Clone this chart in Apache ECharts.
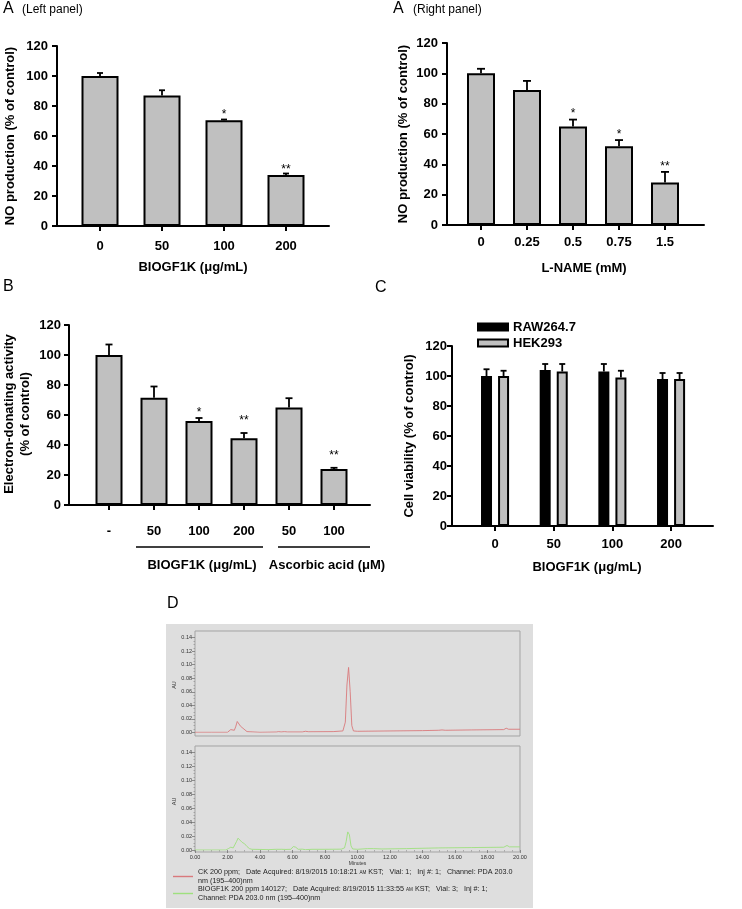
<!DOCTYPE html>
<html><head><meta charset="utf-8">
<script src="https://cdn.jsdelivr.net/npm/echarts@6/dist/echarts.min.js"></script>
<style>html,body{margin:0;padding:0;background:#fff}#c{width:742px;height:909px}</style>
</head><body><div id="c"></div><script>
// ---------- DATA ----------
const aLeftCats = ['0', '50', '100', '200'];
const aLeftVals = [100, 87, 70.5, 34];
const aLeftErr  = [2, 3.5, 0.5, 1];
const aLeftSig  = ['', '', '*', '**'];

const aRightCats = ['0', '0.25', '0.5', '0.75', '1.5'];
const aRightVals = [100, 89, 65, 52, 28];
const aRightErr  = [3, 6, 4.5, 4, 7];
const aRightSig  = ['', '', '*', '*', '**'];

const bCats = ['-', '50', '100', '200', '50', '100'];
const bVals = [100, 71.5, 56, 44.5, 65, 24];
const bErr  = [7, 7.5, 2, 3.5, 6.2, 0.8];
const bSig  = ['', '', '*', '**', '', '**'];

const cCats = ['0', '50', '100', '200'];
const cRaw    = [100, 104, 103, 98];
const cRawErr = [4.5, 4, 5, 4];
const cHek    = [100, 103, 99, 98];
const cHekErr = [3.5, 5, 4.5, 4];

const yTicksBar = [0, 120, 20]; // min, max, interval

// chromatogram (time in min, AU)
const ckTrace = [[0,0],[1,0],[2.0,0],[2.1,0.001],[2.2,0.004],[2.3,0.003],[2.42,0.003],[2.5,0.008],[2.6,0.016],[2.7,0.014],[2.8,0.009],[2.95,0.006],[3.05,0.004],[3.2,0.001],[3.3,0],[4,0],[5.0,0.0004],[5.15,0.001],[5.3,0.0005],[5.5,0.001],[5.7,0.0005],[6.6,0.0005],[6.8,0.0015],[7.0,0.0008],[8.5,0.001],[9.1,0.002],[9.25,0.015],[9.35,0.07],[9.45,0.096],[9.55,0.06],[9.65,0.01],[9.75,0.002],[10,0.0015],[12,0.002],[14,0.0025],[15,0.003],[15.2,0.0035],[15.4,0.003],[17,0.0035],[19,0.004],[19.15,0.006],[19.3,0.0045],[20,0.0045]];
const bioTrace = [[0,0],[1,0],[1.9,0],[2.05,0.002],[2.2,0.004],[2.35,0.003],[2.45,0.003],[2.55,0.012],[2.65,0.017],[2.75,0.015],[2.9,0.011],[3.05,0.009],[3.2,0.005],[3.35,0.002],[3.5,0.001],[4.0,0.0008],[4.5,0.0005],[5.0,0.001],[5.3,0.001],[5.6,0.0008],[5.9,0.001],[6.05,0.005],[6.12,0.007],[6.2,0.004],[6.35,0.001],[6.6,0.0012],[6.8,0.0005],[7.2,0.001],[8,0.001],[9.0,0.0012],[9.2,0.003],[9.3,0.012],[9.4,0.026],[9.5,0.022],[9.6,0.006],[9.7,0.0015],[10,0.001],[10.6,0.002],[11,0.002],[11.5,0.0015],[13,0.002],[15,0.003],[17,0.0035],[19,0.004],[19.2,0.0065],[19.35,0.0045],[20,0.0045]];
const chromY = [0, 0.14, 0.02];
const chromX = [0, 20, 2];
const legendTexts = {
  'CK': 'CK 200 ppm;   Date Acquired: 8/19/2015 10:18:21 {s|AM} KST;   Vial: 1;   Inj #: 1;   Channel: PDA 203.0\nnm (195\u2013400)nm',
  'BIOGF1K': 'BIOGF1K 200 ppm 140127;   Date Acquired: 8/19/2015 11:33:55 {s|AM} KST;   Vial: 3;   Inj #: 1;\nChannel: PDA 203.0 nm (195\u2013400)nm'
};

// ---------- STYLE HELPERS ----------
const FF = '"Liberation Sans", Arial, sans-serif';
const BLACK = '#000';
const labelBold = { fontFamily: FF, fontWeight: 'bold', fontSize: 13, color: BLACK };

function outerAxes(gi, yMargin) {
  return {
    x: { gridIndex: gi, type: 'value', min: 0, max: 1, axisLine: { show: true, lineStyle: { color: BLACK, width: 2 } },
         axisTick: { show: false }, axisLabel: { show: false }, splitLine: { show: false } },
    y: { gridIndex: gi, type: 'value', min: yTicksBar[0], max: yTicksBar[1], interval: yTicksBar[2],
         axisLine: { show: true, lineStyle: { color: BLACK, width: 2 } },
         axisTick: { show: true, length: 5, lineStyle: { color: BLACK, width: 2 } },
         axisLabel: Object.assign({ margin: yMargin }, labelBold), splitLine: { show: false } }
  };
}
function innerAxes(gi, cats, xMargin) {
  return {
    x: { gridIndex: gi, type: 'category', data: cats, boundaryGap: true,
         axisLine: { show: false },
         axisTick: { show: true, alignWithLabel: true, length: 5, lineStyle: { color: BLACK, width: 2 } },
         axisLabel: Object.assign({ margin: xMargin, interval: 0 }, labelBold), splitLine: { show: false } },
    y: { gridIndex: gi, type: 'value', min: yTicksBar[0], max: yTicksBar[1], show: false }
  };
}
function barSeries(ai, vals, width, color, name, extra) {
  return Object.assign({
    type: 'bar', name: name, xAxisIndex: ai, yAxisIndex: ai, data: vals, barWidth: width,
    itemStyle: { color: color, borderColor: BLACK, borderWidth: 2 }, z: 2
  }, extra || {});
}
function errSeries(ai, vals, errs, sigs, opt) {
  return {
    type: 'custom', xAxisIndex: ai, yAxisIndex: ai, z: 5, silent: true,
    data: vals.map((v, i) => [i, v, errs[i]]),
    renderItem: function (params, api) {
      const i = api.value(0), v = api.value(1), e = api.value(2);
      const b = api.coord([i, v]), t = api.coord([i, v + e]);
      const x = b[0] + (opt.shift || 0);
      const ch = [
        { type: 'line', shape: { x1: x, y1: b[1], x2: x, y2: t[1] }, style: { stroke: BLACK, lineWidth: 1.8 } },
        { type: 'line', shape: { x1: x - opt.cap / 2, y1: t[1], x2: x + opt.cap / 2, y2: t[1] }, style: { stroke: BLACK, lineWidth: 1.8 } }
      ];
      const s = sigs ? sigs[params.dataIndex] : '';
      if (s) {
        const d = s.length > 1 ? opt.d2 : opt.d1;
        ch.push({ type: 'text', x: x, y: t[1] - d + 2.5,
          style: { text: s, align: 'center', verticalAlign: 'middle', font: '12px ' + FF, fill: BLACK } });
      }
      return { type: 'group', children: ch };
    }
  };
}

// ---------- GRIDS ----------
const grids = [
  { left: 57, top: 46, width: 272, height: 180 },      // 0 A-left outer
  { left: 69, top: 46, width: 248, height: 180 },      // 1 A-left inner
  { left: 447, top: 43, width: 257, height: 182 },     // 2 A-right outer
  { left: 458, top: 43, width: 230, height: 182 },     // 3 A-right inner
  { left: 69, top: 325, width: 301, height: 180 },     // 4 B outer
  { left: 86.5, top: 325, width: 270, height: 180 },   // 5 B inner
  { left: 452, top: 346, width: 261, height: 180 },    // 6 C outer
  { left: 465.7, top: 346, width: 234.7, height: 180 },// 7 C inner
  { left: 195, top: 631, width: 325, height: 105, show: true, borderColor: '#a3a3a3', borderWidth: 1, backgroundColor: 'transparent' }, // 8 D top frame
  { left: 195, top: 637.7, width: 325, height: 94.6 }, // 9 D top data
  { left: 195, top: 746, width: 325, height: 106, show: true, borderColor: '#a3a3a3', borderWidth: 1, backgroundColor: 'transparent' }, // 10 D bottom frame
  { left: 195, top: 752.7, width: 325, height: 97.3 }  // 11 D bottom data
];

const xAxes = [], yAxes = [];
function pushAxes(a) { xAxes.push(a.x); yAxes.push(a.y); }
pushAxes(outerAxes(0, 9));
pushAxes(innerAxes(1, aLeftCats, 14));
pushAxes(outerAxes(2, 9));
pushAxes(innerAxes(3, aRightCats, 11));
pushAxes(outerAxes(4, 8));
pushAxes(innerAxes(5, bCats, 20));
pushAxes(outerAxes(6, 5));
pushAxes(innerAxes(7, cCats, 11.5));

const chromLabel = { fontFamily: FF, fontSize: 5.5, color: '#333' };
function frameAxes(gi) {
  return { x: { gridIndex: gi, type: 'value', min: 0, max: 1, show: false },
           y: { gridIndex: gi, type: 'value', min: 0, max: 1, show: false } };
}
function chromAxes(gi, showX) {
  return {
    x: { gridIndex: gi, type: 'value', min: chromX[0], max: chromX[1], interval: chromX[2], show: showX, offset: 2.3,
         axisLine: { show: false },
         axisTick: { show: true, length: 3, lineStyle: { color: '#777', width: 0.8 } },
         minorTick: { show: true, splitNumber: 4, length: 1.5, lineStyle: { color: '#888', width: 0.6 } },
         axisLabel: Object.assign({ margin: 2, formatter: v => v.toFixed(2) }, chromLabel),
         splitLine: { show: false },
         name: 'Minutes', nameLocation: 'middle', nameGap: 9, nameTextStyle: { fontFamily: FF, fontSize: 5, color: '#333' } },
    y: { gridIndex: gi, type: 'value', min: chromY[0], max: chromY[1], interval: chromY[2],
         axisLine: { show: false },
         axisTick: { show: true, length: 3, lineStyle: { color: '#777', width: 0.8 } },
         minorTick: { show: true, splitNumber: 4, length: 1.5, lineStyle: { color: '#888', width: 0.6 } },
         axisLabel: Object.assign({ margin: 3, formatter: v => v.toFixed(2) }, chromLabel),
         splitLine: { show: false },
         name: 'AU', nameLocation: 'middle', nameRotate: 90, nameGap: 18, nameTextStyle: { fontFamily: FF, fontSize: 5.5, color: '#333' } }
  };
}
pushAxes(frameAxes(8));
pushAxes(chromAxes(9, false));
pushAxes(frameAxes(10));
pushAxes(chromAxes(11, true));

// ---------- SERIES ----------
const GREY = '#c0c0c0';
const cBarW = 11, cGapRatio = 0.55;
const cShift = (cBarW + cBarW * cGapRatio) / 2;
const RED = '#d9797c', GREEN = '#9ee07e';
const series = [
  barSeries(1, aLeftVals, 37, GREY, 'aL'),
  errSeries(1, aLeftVals, aLeftErr, aLeftSig, { cap: 6, d1: 7.5, d2: 6.5 }),
  barSeries(3, aRightVals, 28, GREY, 'aR'),
  errSeries(3, aRightVals, aRightErr, aRightSig, { cap: 8, d1: 8, d2: 8 }),
  barSeries(5, bVals, 27, GREY, 'b'),
  errSeries(5, bVals, bErr, bSig, { cap: 7, d1: 8, d2: 15 }),
  barSeries(7, cRaw, cBarW, '#000', 'RAW264.7', { barGap: (cGapRatio * 100) + '%' }),
  barSeries(7, cHek, cBarW, GREY, 'HEK293', { barGap: (cGapRatio * 100) + '%' }),
  errSeries(7, cRaw, cRawErr, null, { cap: 6, shift: -cShift }),
  errSeries(7, cHek, cHekErr, null, { cap: 6, shift: cShift }),
  { type: 'line', name: 'CK', xAxisIndex: 9, yAxisIndex: 9, data: ckTrace, symbol: 'none', showSymbol: false,
    lineStyle: { color: RED, width: 0.9 }, itemStyle: { color: RED }, z: 3 },
  { type: 'line', name: 'BIOGF1K', xAxisIndex: 11, yAxisIndex: 11, data: bioTrace, symbol: 'none', showSymbol: false,
    lineStyle: { color: GREEN, width: 0.9 }, itemStyle: { color: GREEN }, z: 3 }
];

// ---------- TEXT / DECORATION ----------
function txt(x, y, s, font, extra) {
  return Object.assign({ type: 'text', x: x, y: y, z: 10,
    style: { text: s, font: font, fill: BLACK, align: 'left', verticalAlign: 'top' } }, extra || {});
}
function ctxt(x, y, s, font, rot) {
  return { type: 'text', x: x, y: y, rotation: rot || 0, z: 10,
    style: { text: s, font: font, fill: BLACK, align: 'center', verticalAlign: 'middle', lineHeight: 16 } };
}
const F13B = 'bold 13px ' + FF;
const graphic = [
  { type: 'rect', shape: { x: 166, y: 624, width: 367, height: 284 }, style: { fill: '#dedede' }, z: -10 },
  txt(3, 1, 'A', '16px ' + FF),
  txt(22, 4, '(Left panel)', '12px ' + FF),
  txt(393, 1, 'A', '16px ' + FF),
  txt(413, 4, '(Right panel)', '12px ' + FF),
  txt(3, 279, 'B', '16px ' + FF),
  txt(375, 280, 'C', '16px ' + FF),
  txt(167, 596, 'D', '16px ' + FF),
  ctxt(193, 267, 'BIOGF1K (\u03bcg/mL)', F13B),
  ctxt(10, 136, 'NO production (% of control)', F13B, Math.PI / 2),
  ctxt(584, 268, 'L-NAME (mM)', F13B),
  ctxt(403, 134, 'NO production (% of control)', F13B, Math.PI / 2),
  ctxt(17, 414, 'Electron-donating activity\n(% of control)', F13B, Math.PI / 2),
  ctxt(202, 565, 'BIOGF1K (\u03bcg/mL)', F13B),
  ctxt(327, 565, 'Ascorbic acid (\u03bcM)', F13B),
  { type: 'line', shape: { x1: 136, y1: 547, x2: 263, y2: 547 }, style: { stroke: BLACK, lineWidth: 1.3 }, z: 10 },
  { type: 'line', shape: { x1: 278, y1: 547, x2: 370, y2: 547 }, style: { stroke: BLACK, lineWidth: 1.3 }, z: 10 },
  ctxt(587, 567, 'BIOGF1K (\u03bcg/mL)', F13B),
  ctxt(409, 436, 'Cell viability (% of control)', F13B, Math.PI / 2)
];

const option = {
  animation: false,
  backgroundColor: '#fff',
  textStyle: { fontFamily: FF },
  grid: grids,
  xAxis: xAxes,
  yAxis: yAxes,
  legend: [
    { data: ['RAW264.7', 'HEK293'], orient: 'vertical', left: 477, top: 320, icon: 'rect',
      itemWidth: 30, itemHeight: 7, itemGap: 2, selectedMode: false, padding: 0,
      textStyle: { fontFamily: FF, fontWeight: 'bold', fontSize: 13, color: BLACK, lineHeight: 14 } },
    { data: [{ name: 'CK', itemStyle: { color: RED } }, { name: 'BIOGF1K', itemStyle: { color: GREEN } }],
      orient: 'vertical', left: 173, top: 868, height: 41, padding: 0,
      icon: 'rect', itemWidth: 20, itemHeight: 1.4, itemGap: 0, selectedMode: false,
      formatter: n => legendTexts[n],
      textStyle: { fontFamily: FF, fontSize: 7.2, color: '#222', lineHeight: 8.5, rich: { s: { fontSize: 4.6, color: '#222' } } } }
  ],
  series: series,
  graphic: graphic
};
const chart = echarts.init(document.getElementById('c'), null, { renderer: 'canvas' });
chart.setOption(option);
</script></body></html>
